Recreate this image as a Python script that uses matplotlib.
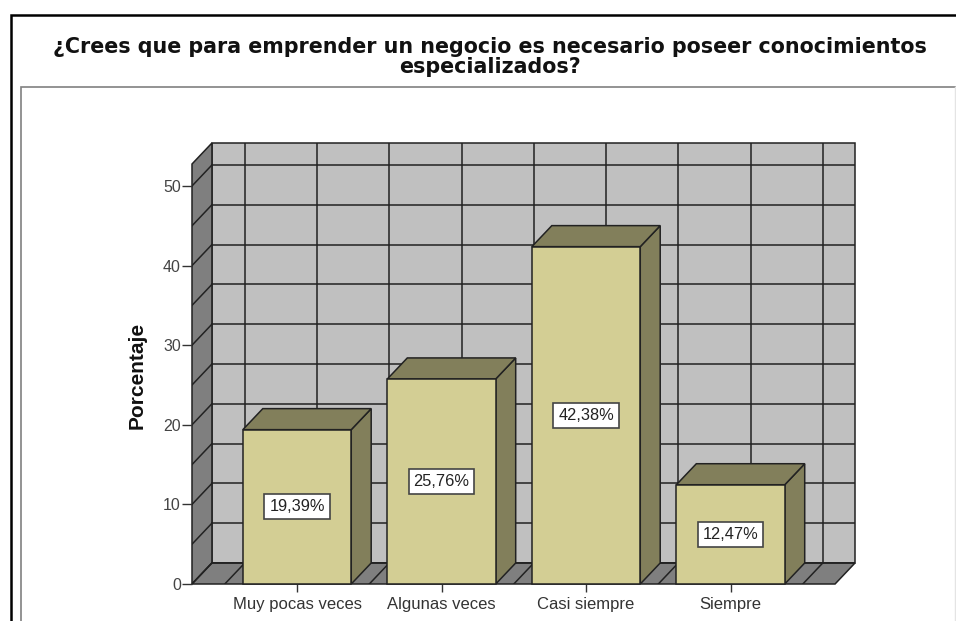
import numpy as np
import matplotlib
matplotlib.use('Agg')
import matplotlib.pyplot as plt
from matplotlib.patches import Polygon, Rectangle
from matplotlib.lines import Line2D

categories = ['Muy pocas veces', 'Algunas veces', 'Casi siempre', 'Siempre']
percent = [19.39, 25.76, 42.38, 12.47]
percent_labels = ['19,39%', '25,76%', '42,38%', '12,47%']
y_ticks = [0, 10, 20, 30, 40, 50]
title = '¿Crees que para emprender un negocio es necesario poseer conocimientos\nespecializados?'

plt.rcParams['font.family'] = ['Liberation Sans', 'DejaVu Sans']

W, H = 956, 621
fig = plt.figure(figsize=(W / 100, H / 100), dpi=100)

# frame lines of the pasted picture
def px_line(xs, ys, color, lw):
    fig.add_artist(Line2D([x / W for x in xs], [1 - y / H for y in ys], color=color, lw=lw,
                          solid_joinstyle='miter'))

px_line([11, 11, 956], [621, 15, 15], 'black', 1.8)
px_line([21, 21, 955], [621, 87, 87], '#808080', 1.2)
px_line([955, 955], [87, 621], '#e4e4e4', 1.0)

# the title in the picture is stretched sideways, so a wide bold fits it better
fig.text(490 / W, 1 - 57 / H, title, ha='center', va='center', fontsize=14.9,
         fontweight='bold', family=['DejaVu Sans'], linespacing=1.0, color='#111111')

ax = fig.add_axes([192 / W, 1 - 584 / H, (855 - 192) / W, (584 - 143) / H])
ax.set_xlim(-0.727, 3.861)
ax.set_ylim(0, 55.4)
for s in ax.spines.values():
    s.set_visible(False)
ax.patch.set_visible(False)

# depth of the fake 3d, in data units
dx = 0.138
dy = 2.64
x_front = -0.727
x_end = 3.723
y_top = 55.4 - dy
edge = '#222222'
lw = 1.1

# walls
ax.add_patch(Rectangle((x_front + dx, dy), x_end - x_front, y_top, fc='#c0c0c0', ec=edge, lw=lw, zorder=1, clip_on=False))
ax.add_patch(Polygon([(x_front, 0), (x_front + dx, dy), (x_front + dx, 55.4), (x_front, y_top)],
                     fc='#7f7f7f', ec=edge, lw=lw, zorder=1, clip_on=False))
ax.add_patch(Polygon([(x_front, 0), (x_end, 0), (x_end + dx, dy), (x_front + dx, dy)],
                     fc='#7f7f7f', ec=edge, lw=lw, zorder=1, clip_on=False))

# grid on back wall, side wall and floor
for v in np.arange(0, y_top, 5):
    ax.plot([x_front + dx, x_end + dx], [v + dy, v + dy], color=edge, lw=lw, zorder=2)
    ax.plot([x_front, x_front + dx], [v, v + dy], color=edge, lw=lw, zorder=2)
for c in np.arange(-0.5, 3.6, 0.5):
    ax.plot([c + dx, c + dx], [dy, 55.4], color=edge, lw=lw, zorder=2)
    ax.plot([c, c + dx], [0, dy], color=edge, lw=lw, zorder=2)

# bars, left to right
bar_w = 0.75
for i, v in enumerate(percent):
    x0, x1 = i - bar_w / 2, i + bar_w / 2
    ax.bar(i, v, width=bar_w, color='#d3ce94', edgecolor=edge, linewidth=lw, zorder=4, clip_on=False)
    ax.add_patch(Polygon([(x1, 0), (x1 + dx, dy), (x1 + dx, v + dy), (x1, v)],
                         fc='#827f5b', ec=edge, lw=lw, zorder=3))
    ax.add_patch(Polygon([(x0, v), (x1, v), (x1 + dx, v + dy), (x0 + dx, v + dy)],
                         fc='#827f5b', ec=edge, lw=lw, zorder=3))
    ax.text(i, v / 2, percent_labels[i], ha='center', va='center', fontsize=11.8, color='#222222',
            zorder=5, bbox=dict(boxstyle='square,pad=0.3', fc='white', ec='#444444', lw=1.2))

ax.set_xticks(range(len(categories)))
ax.set_xticklabels(categories, fontsize=12, color='#333333')
ax.set_yticks(y_ticks)
ax.tick_params(axis='y', length=7, width=1.0, color='#333333', labelsize=11.5, labelcolor='#444444', pad=1)
ax.tick_params(axis='x', length=6, width=1.0, color='#333333', pad=3)
ax.set_ylabel('Porcentaje', fontsize=15, fontweight='bold', color='#111111')
ax.yaxis.set_label_coords((147 - 192) / (855 - 192), (584 - 375) / (584 - 143))

fig.savefig('out.png', dpi=100)
